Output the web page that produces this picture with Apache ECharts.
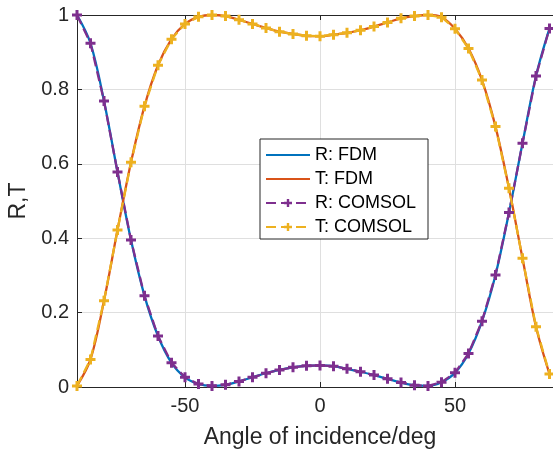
<!DOCTYPE html>
<html>
<head>
<meta charset="utf-8">
<script src="https://cdn.jsdelivr.net/npm/echarts@6/dist/echarts.min.js"></script>
<style>
  html, body { margin: 0; padding: 0; background: #fff; }
  #chart { width: 553px; height: 453px; }
</style>
</head>
<body>
<div id="chart"></div>
<script>
// angle of incidence (deg)
var angles = [-90, -85, -80, -75, -70, -65, -60, -55, -50, -45, -40, -35, -30, -25, -20, -15, -10, -5,
              0, 5, 10, 15, 20, 25, 30, 35, 40, 45, 50, 55, 60, 65, 70, 75, 80, 85];

// reflection R
var valR = [1.0, 0.924, 0.769, 0.578, 0.395, 0.245, 0.137, 0.065, 0.026, 0.008, 0.003, 0.006, 0.015, 0.026, 0.037, 0.046, 0.053, 0.057,
            0.058, 0.056, 0.049, 0.041, 0.032, 0.022, 0.012, 0.005, 0.003, 0.013, 0.038, 0.09, 0.177, 0.301, 0.469, 0.655, 0.836, 0.964];

// transmission T
var valT = [0.003, 0.074, 0.232, 0.422, 0.604, 0.755, 0.865, 0.935, 0.976, 0.995, 1.0, 0.997, 0.987, 0.976, 0.965, 0.955, 0.949, 0.944,
            0.943, 0.947, 0.952, 0.959, 0.969, 0.980, 0.991, 0.997, 1.0, 0.994, 0.963, 0.910, 0.825, 0.700, 0.534, 0.346, 0.162, 0.035];

var xTicks = [-50, 0, 50];
var names = ['R: FDM', 'T: FDM', 'R: COMSOL', 'T: COMSOL'];

function pairs(xs, ys) {
  var out = [];
  for (var i = 0; i < xs.length; i++) out.push([xs[i], ys[i]]);
  return out;
}

var plusSymbol = 'path://M3.5,0H6.5V3.5H10V6.5H6.5V10H3.5V6.5H0V3.5H3.5Z';
var axisColor = '#262626';

var chart = echarts.init(document.getElementById('chart'));

var option = {
  animation: false,
  color: ['#0072BD', '#D95319', '#7E2F8E', '#EDB120'],
  // plot box runs past the right edge (x axis goes to 90, image is cut at ~86)
  grid: { left: 77, top: 15, width: 486, height: 372, containLabel: false, outerBoundsMode: 'none' },
  legend: {
    orient: 'vertical',
    left: 260,
    top: 139,
    padding: [7, 12, 3, 5],
    itemWidth: 44,
    itemHeight: 10,
    itemGap: 6,
    itemTextGap: 4,
    borderColor: axisColor,
    borderWidth: 1,
    backgroundColor: '#fff',
    textStyle: { fontFamily: 'Liberation Sans', fontSize: 18, color: '#000' },
    data: [
      { name: names[0], itemStyle: { opacity: 0 } },
      { name: names[1], itemStyle: { opacity: 0 } },
      { name: names[2] },
      { name: names[3] }
    ]
  },
  xAxis: [
    {
      type: 'value',
      min: -90,
      max: 90,
      name: 'Angle of incidence/deg',
      nameLocation: 'middle',
      nameGap: 39,
      nameTextStyle: { fontFamily: 'Liberation Sans', fontSize: 23, color: axisColor },
      axisLine: { onZero: false, lineStyle: { color: axisColor, width: 1 } },
      axisTick: { inside: true, length: 5, customValues: xTicks, lineStyle: { color: axisColor } },
      axisLabel: { customValues: xTicks, fontFamily: 'Liberation Sans', fontSize: 20, color: axisColor, margin: 9 },
      splitLine: { show: true, lineStyle: { color: '#dfdfdf', width: 1 } }
    },
    {
      type: 'value',
      position: 'top',
      min: -90,
      max: 90,
      axisLine: { show: true, onZero: false, lineStyle: { color: axisColor, width: 1 } },
      axisTick: { inside: true, length: 5, customValues: xTicks, lineStyle: { color: axisColor } },
      axisLabel: { show: false },
      splitLine: { show: false }
    }
  ],
  yAxis: {
    type: 'value',
    min: 0,
    max: 1,
    interval: 0.2,
    name: 'R,T',
    nameLocation: 'middle',
    nameGap: 34,
    nameTextStyle: { fontFamily: 'Liberation Sans', fontSize: 23, color: axisColor },
    axisLine: { show: true, onZero: false, lineStyle: { color: axisColor, width: 1 } },
    axisTick: { show: true, inside: true, length: 5, lineStyle: { color: axisColor } },
    axisLabel: { fontFamily: 'Liberation Sans', fontSize: 20, color: axisColor, margin: 8 },
    splitLine: { show: true, lineStyle: { color: '#dfdfdf', width: 1 } }
  },
  series: [
    {
      name: names[0],
      type: 'line',
      data: pairs(angles, valR),
      smooth: 0.35,
      showSymbol: false,
      symbol: 'none',
      lineStyle: { width: 2.3, color: '#0072BD' }
    },
    {
      name: names[1],
      type: 'line',
      data: pairs(angles, valT),
      smooth: 0.35,
      showSymbol: false,
      symbol: 'none',
      lineStyle: { width: 2.3, color: '#D95319' }
    },
    {
      name: names[2],
      type: 'line',
      data: pairs(angles, valR),
      symbol: plusSymbol,
      symbolSize: 10,
      itemStyle: { color: '#7E2F8E' },
      lineStyle: { width: 2.3, color: '#7E2F8E', type: [10, 5] }
    },
    {
      name: names[3],
      type: 'line',
      data: pairs(angles, valT),
      symbol: plusSymbol,
      symbolSize: 10,
      itemStyle: { color: '#EDB120' },
      lineStyle: { width: 2.3, color: '#EDB120', type: [10, 5] }
    }
  ]
};

chart.setOption(option);
</script>
</body>
</html>
